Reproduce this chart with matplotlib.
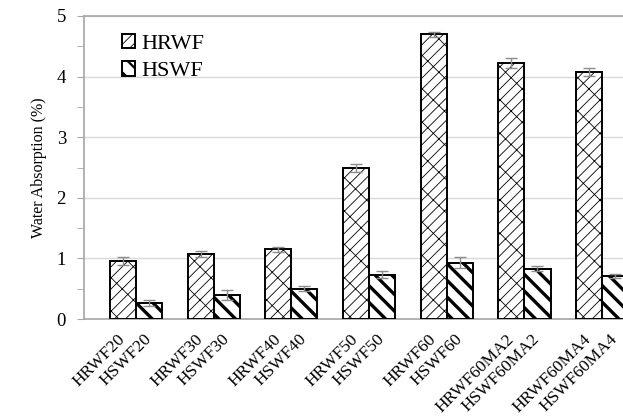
import numpy as np
import matplotlib.pyplot as plt
from matplotlib.transforms import ScaledTranslation

plt.rcParams['font.family'] = ['Liberation Serif', 'DejaVu Serif']

groups = ['20', '30', '40', '50', '60', '60MA2', '60MA4']
hrwf = [0.96, 1.07, 1.15, 2.49, 4.70, 4.22, 4.08]
hrwf_err = [0.07, 0.05, 0.04, 0.07, 0.04, 0.08, 0.07]
hswf = [0.26, 0.40, 0.50, 0.73, 0.93, 0.83, 0.71]
hswf_err = [0.05, 0.08, 0.04, 0.06, 0.09, 0.04, 0.04]

W, H = 623, 416
fig = plt.figure(figsize=(W / 100, H / 100), dpi=100)
ax = fig.add_axes([84 / W, (H - 319) / H, (W - 84) / W, (319 - 16) / H])

x = np.arange(len(groups))
w = 0.335
err_kw = dict(ecolor='#8c8c8c', elinewidth=1.0, capsize=4.5, capthick=1.0)

with plt.rc_context({'hatch.linewidth': 0.6}):
    b1 = ax.bar(x - w / 2, hrwf, w, yerr=hrwf_err, color='white', edgecolor='black',
                linewidth=1.4, hatch='///\\', error_kw=err_kw, label='HRWF', zorder=3)
with plt.rc_context({'hatch.linewidth': 2.4}):
    b2 = ax.bar(x + w / 2, hswf, w, yerr=hswf_err, color='white', edgecolor='black',
                linewidth=1.4, hatch='\\\\', error_kw=err_kw, label='HSWF', zorder=3)

ax.set_xlim(-0.669, 6.268)
ax.set_ylim(0, 5)

# two rotated labels per group, one under each bar
pos = np.ravel(np.column_stack([x - w / 2, x + w / 2]))
labels = []
for g in groups:
    labels += ['HRWF' + g, 'HSWF' + g]
ax.set_xticks(pos)
ax.set_xticklabels(labels, rotation=45, ha='right', va='center',
                   rotation_mode='anchor', fontsize=12.5)
shift = ScaledTranslation(-2 / 100, 0, fig.dpi_scale_trans)
for lab in ax.get_xticklabels():
    lab.set_transform(lab.get_transform() + shift)
ax.tick_params(axis='x', length=0, pad=13)

ax.set_yticks(np.arange(0, 6, 1))
ax.set_yticks(np.arange(0, 5.01, 0.5), minor=True)
ax.tick_params(axis='y', which='both', direction='out', length=5, color='#a6a6a6',
               labelsize=13.5, pad=8)
ax.grid(axis='y', color='#d9d9d9', linewidth=1, zorder=0)
ax.set_axisbelow(True)

for side in ['left', 'bottom', 'top']:
    ax.spines[side].set_color('#a6a6a6')
    ax.spines[side].set_linewidth(1.2)
ax.spines['right'].set_visible(False)

ax.set_ylabel('Water Absorption (%)', fontsize=11.5, labelpad=7)

leg = ax.legend(handles=[b1, b2], loc='upper left', bbox_to_anchor=(0.037, 1.0),
                frameon=False, fontsize=16, handlelength=0.6, handleheight=0.6,
                handletextpad=0.3, labelspacing=0.35, borderaxespad=0.4)
for handle, lw in zip(leg.legend_handles, [0.6, 1.6]):
    if hasattr(handle, 'set_hatch_linewidth'):
        handle.set_hatch_linewidth(lw)

fig.savefig('out.png', dpi=100)
